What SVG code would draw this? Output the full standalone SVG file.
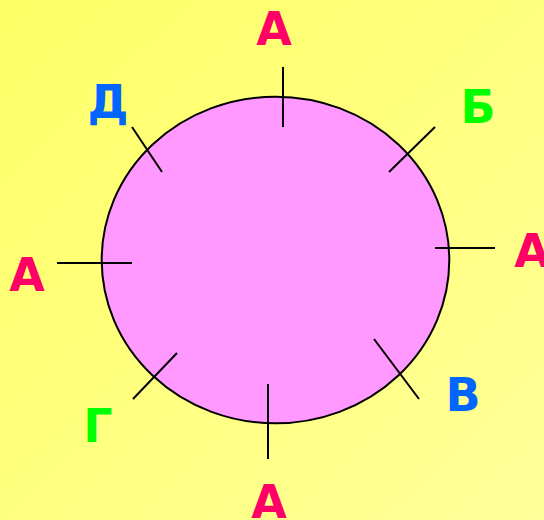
<svg xmlns="http://www.w3.org/2000/svg" width="544" height="520" viewBox="0 0 544 520">
<defs>
<linearGradient id="bg" x1="0" y1="0" x2="1" y2="1">
<stop offset="0" stop-color="#FFFF66"/>
<stop offset="1" stop-color="#FFFF99"/>
</linearGradient>
<style>
.t{stroke:#000;stroke-width:2;fill:none}
.l{font-family:"DejaVu Sans","Verdana",sans-serif;font-weight:bold;font-size:46px;text-anchor:middle}
.r{fill:#FF0066}.g{fill:#00FF00}.b{fill:#0066FF}
</style>
</defs>
<rect width="544" height="520" fill="url(#bg)"/>
<g id="circle"><ellipse cx="275.5" cy="260" rx="173.8" ry="163.3" fill="#FF99FF" stroke="#000" stroke-width="2"/></g>
<g id="ticks">
<line class="t" x1="283" y1="67" x2="283" y2="127"/>
<line class="t" x1="435" y1="248" x2="495" y2="248"/>
<line class="t" x1="268" y1="384" x2="268" y2="459"/>
<line class="t" x1="57" y1="263" x2="132" y2="263"/>
<line class="t" x1="435" y1="127" x2="389" y2="172"/>
<line class="t" x1="132" y1="127" x2="162" y2="172"/>
<line class="t" x1="177" y1="353" x2="133" y2="399"/>
<line class="t" x1="374" y1="339" x2="419" y2="399"/>
</g>
<g id="labels">
<text class="l r" x="274" y="45">А</text>
<text class="l b" x="108" y="118">Д</text>
<text class="l g" x="478" y="123">Б</text>
<text class="l r" x="532" y="267">А</text>
<text class="l r" x="27" y="291">А</text>
<text class="l g" x="98" y="442">Г</text>
<text class="l b" x="463" y="411">В</text>
<text class="l r" x="269" y="518">А</text>
</g>
</svg>
